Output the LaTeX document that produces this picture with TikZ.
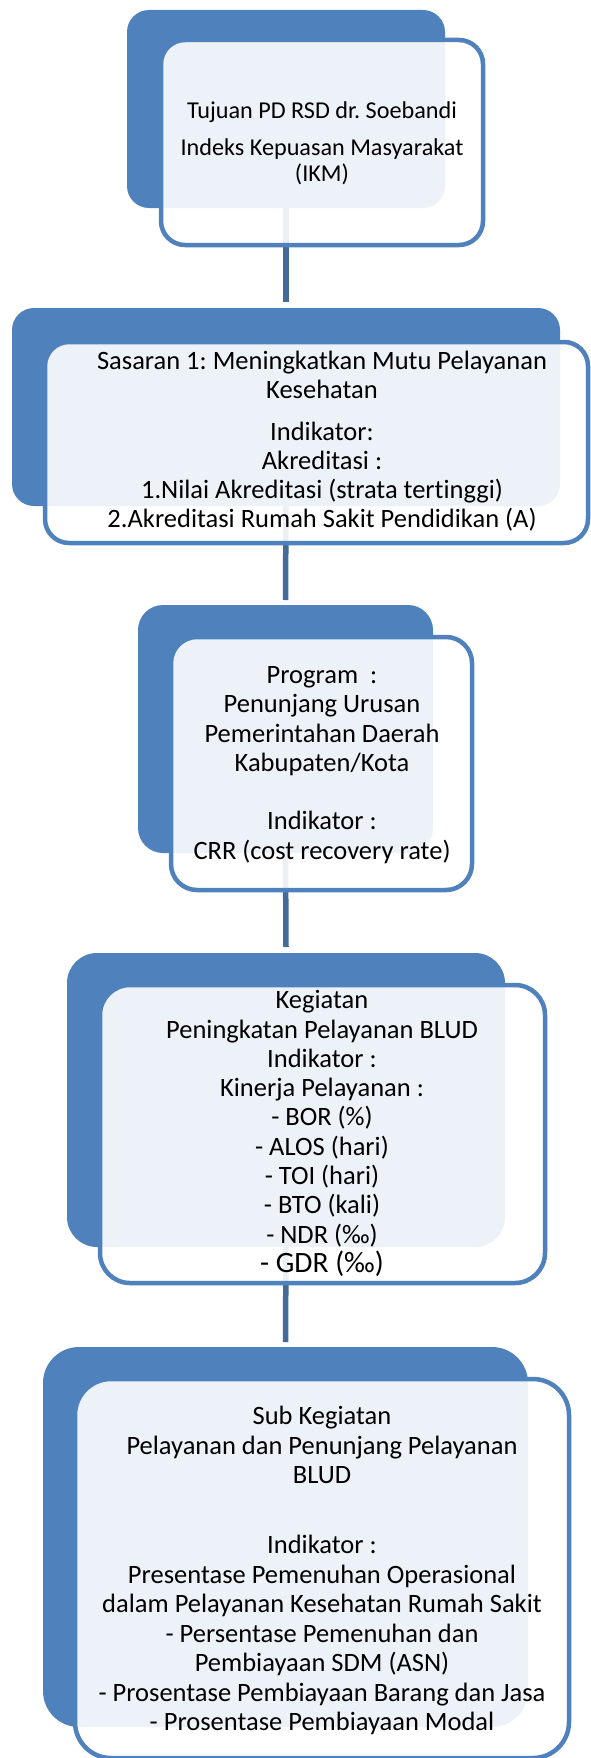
\documentclass[tikz,border=0pt]{standalone}
\usepackage{fontspec}
\setmainfont{Carlito}[Ligatures={NoCommon}]
\frenchspacing
\definecolor{acc}{RGB}{79,129,189}
\definecolor{conn}{RGB}{68,105,155}
\tikzset{
  backbox/.style={rectangle, fill=acc, draw=none, inner sep=0pt, outer sep=0pt},
  frontbox/.style={rectangle, draw=acc, line width=4.5pt, fill=white, fill opacity=0.9, draw opacity=1, inner sep=0pt, outer sep=0pt},
  boxtext/.style={align=center, inner sep=0pt, text=black},
  link/.style={draw=conn, line width=5.5pt}
}
\begin{document}
\begin{tikzpicture}[x=1pt,y=-1pt]
\path[fill=white] (0,0) rectangle (590,1758);
\useasboundingbox (0,0) rectangle (590,1758);

% back boxes
\node[backbox, rounded corners=22pt, minimum width=318pt, minimum height=198pt] (b1) at (286,109) {};
\node[backbox, rounded corners=22pt, minimum width=548pt, minimum height=198pt] (b2) at (286,407) {};
\node[backbox, rounded corners=25pt, minimum width=295pt, minimum height=248pt] (b3) at (285.5,729) {};
\node[backbox, rounded corners=30pt, minimum width=438pt, minimum height=294pt] (b4) at (286,1100) {};
\node[backbox, rounded corners=36pt, minimum width=485pt, minimum height=380pt] (b5) at (285.5,1537) {};

% connectors
\draw[link] (b1.south) -- ([yshift=6pt]b2.north);
\draw[link] (b2.south) -- ([yshift=5pt]b3.north);
\draw[link] (b3.south) -- ([yshift=6pt]b4.north);
\draw[link] (b4.south) -- ([yshift=5pt]b5.north);

% front boxes
\node[frontbox, rounded corners=24pt, minimum width=322pt, minimum height=205pt] (f1) at (322,142.5) {};
\node[frontbox, rounded corners=24pt, minimum width=543pt, minimum height=201pt] (f2) at (316.5,442.5) {};
\node[frontbox, rounded corners=26pt, minimum width=301pt, minimum height=253pt] (f3) at (321.5,763.5) {};
\node[frontbox, rounded corners=30pt, minimum width=445pt, minimum height=298pt] (f4) at (322.5,1134) {};
\node[frontbox, rounded corners=36pt, minimum width=494pt, minimum height=379pt] (f5) at (322,1568.5) {};

% texts
\node[boxtext, font=\fontsize{24.2}{26}\selectfont] (t1) at (322,143.5)
  {Tujuan PD RSD dr. Soebandi\\[11pt]Indeks Kepuasan Masyarakat\\(IKM)};
\node[boxtext, font=\fontsize{26.5}{29}\selectfont] (t2) at (322,441)
  {Sasaran 1: Meningkatkan Mutu Pelayanan\\Kesehatan\\[13pt]Indikator:\\Akreditasi :\\1.Nilai Akreditasi (strata tertinggi)\\2.Akreditasi Rumah Sakit Pendidikan (A)};
\node[boxtext, font=\fontsize{26.5}{29.3}\selectfont] (t3) at (322,765)
  {Program\ \ :\\Penunjang Urusan\\Pemerintahan Daerah\\Kabupaten/Kota\\[29.3pt]Indikator :\\CRR (cost recovery rate)};
\node[boxtext, font=\fontsize{26.5}{29.3}\selectfont] (t4) at (322,1133.5)
  {Kegiatan\\Peningkatan Pelayanan BLUD\\Indikator :\\Kinerja Pelayanan :\\- BOR (\%)\\- ALOS (hari)\\- TOI (hari)\\- BTO (kali)\\- NDR (‰)\\{\fontsize{29.5}{30}\selectfont - GDR (‰)}};
\node[boxtext, font=\fontsize{26.5}{29.5}\selectfont] (t5) at (322,1570.5)
  {Sub Kegiatan\\Pelayanan dan Penunjang Pelayanan\\BLUD\\[40.5pt]Indikator :\\Presentase Pemenuhan Operasional\\dalam Pelayanan Kesehatan Rumah Sakit\\- Persentase Pemenuhan dan\\Pembiayaan SDM (ASN)\\- Prosentase Pembiayaan Barang dan Jasa\\- Prosentase Pembiayaan Modal};
\end{tikzpicture}
\end{document}
